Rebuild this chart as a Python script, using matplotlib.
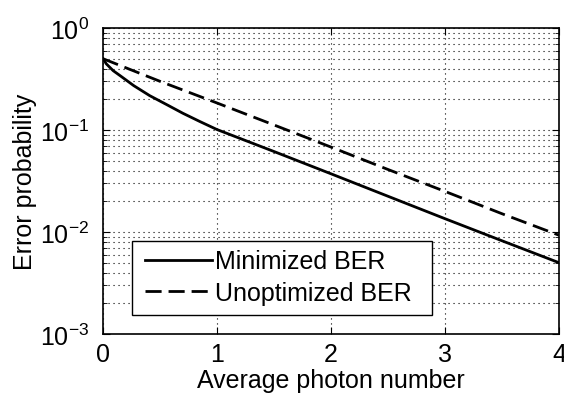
import numpy as np
import matplotlib
matplotlib.use("Agg")
from matplotlib import pyplot as plt
from matplotlib.patches import Rectangle
from matplotlib.ticker import LogLocator, NullFormatter

plt.rcParams["font.family"] = ["Liberation Sans", "DejaVu Sans"]
plt.rcParams["mathtext.fontset"] = "custom"
plt.rcParams["mathtext.rm"] = "Liberation Sans"
plt.rcParams["mathtext.it"] = "Liberation Sans"

# values
photon_min = [0.0, 0.03, 0.09, 0.15, 0.27, 0.41, 0.56, 0.70, 0.85, 1.0,
              1.5, 2.0, 2.5, 3.0, 3.5, 4.0]
ber_min = [0.5, 0.444, 0.381, 0.341, 0.272, 0.217, 0.177, 0.146, 0.121, 0.101,
           0.0615, 0.0372, 0.0224, 0.0135, 0.0082, 0.0050]

photon_unopt = [0.0, 0.5, 1.0, 1.5, 2.0, 2.5, 3.0, 3.5, 4.0]
ber_unopt = [0.5, 0.30, 0.184, 0.112, 0.068, 0.041, 0.025, 0.0151, 0.0093]

fig = plt.figure(figsize=(5.64, 4.06), dpi=100)
ax = fig.add_axes([0.1826, 0.175, 0.8084, 0.7536])

ax.semilogy(photon_min, ber_min, color="black", lw=2, label="Minimized BER")
ax.semilogy(photon_unopt, ber_unopt, color="black", lw=2, dashes=(5.8, 2.5),
            label="Unoptimized BER")

ax.set_xlim(0, 4)
ax.set_ylim(1e-3, 1)
ax.set_xticks([0, 1, 2, 3, 4])
ax.yaxis.set_major_locator(LogLocator(base=10, numticks=10))
ax.yaxis.set_minor_locator(LogLocator(base=10, subs=np.arange(2, 10), numticks=10))
ax.yaxis.set_minor_formatter(NullFormatter())

dot = (0, (1, 3.5))
ax.grid(True, which="major", linestyle=dot, color="black", lw=0.8)
ax.grid(True, which="minor", axis="y", linestyle=dot, color="black", lw=0.8)

ax.tick_params(which="both", direction="in", top=True, right=True, labelsize=18)
ax.tick_params(axis="y", pad=10)
ax.tick_params(axis="x", pad=6)
ax.tick_params(which="major", length=5)
ax.tick_params(which="minor", length=3)
for s in ax.spines.values():
    s.set_linewidth(1.2)

ax.set_xlabel("Average photon number", fontsize=18, labelpad=1)
ax.set_ylabel("Error probability", fontsize=18, labelpad=2)

# legend box drawn by hand, legend entries placed inside it
ax.add_patch(Rectangle((0.0636, 0.062), 0.658, 0.242, transform=ax.transAxes,
                       facecolor="white", edgecolor="black", lw=1.0, zorder=4))
leg = ax.legend(loc="center left", bbox_to_anchor=(0.092, 0.186), fontsize=18,
                handlelength=2.68, handletextpad=0.13, borderpad=0,
                labelspacing=0.3, frameon=False, borderaxespad=0)
leg.set_zorder(5)

fig.savefig("out.png", dpi=100)
